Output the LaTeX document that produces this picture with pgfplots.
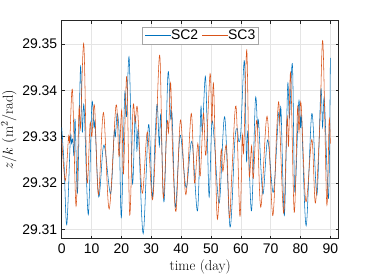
\documentclass[border=0pt]{standalone}
\usepackage{pgfplots}
\pgfplotsset{compat=1.18}
\usepackage{fontspec}
\setmainfont{Latin Modern Roman}
\newfontfamily\ticksans{Liberation Sans}
\definecolor{mblue}{rgb}{0,0.447,0.741}
\definecolor{morange}{rgb}{0.85,0.325,0.098}
\definecolor{axgray}{rgb}{0.15,0.15,0.15}
\pgfplotstableread{
t v
0 29.332
0.8 29.324
1.7 29.311
2.9 29.3295
3.3 29.3285
3.7 29.3295
4.1 29.326
4.5 29.3337
5.3 29.318
6.3 29.345
6.9 29.331
7.5 29.3365
8.9 29.3132
10.1 29.337
10.8 29.332
11.2 29.3325
12.4 29.317
13.8 29.3272
14.6 29.327
16.4 29.3177
17.6 29.331
18.0 29.330
18.6 29.335
19.3 29.330
20.0 29.3126
21.1 29.339
21.7 29.3343
22.6 29.347
23.7 29.320
24.6 29.3345
25.2 29.327
25.7 29.331
27.3 29.3091
29.1 29.3326
30.4 29.317
31.3 29.330
32.0 29.337
32.7 29.328
33.2 29.3345
34.3 29.316
35.6 29.3436
36.5 29.334
37.0 29.3345
38.1 29.3148
39.7 29.3303
41.7 29.319
43.6 29.329
45.5 29.314
46.6 29.336
47.1 29.331
48.1 29.343
48.7 29.333
49.4 29.317
50.3 29.333
51.2 29.3285
52.8 29.3157
54.6 29.3343
56.4 29.3105
58.0 29.329
58.8 29.3318
59.3 29.329
60.0 29.331
61.2 29.3464
61.9 29.325
62.4 29.331
63.6 29.314
64.9 29.338
65.6 29.332
66.0 29.333
67.4 29.3176
69.0 29.3293
70.9 29.318
72.6 29.3346
73.1 29.333
73.5 29.3355
74.6 29.313
75.7 29.341
76.3 29.334
77.3 29.3455
78.1 29.318
79.4 29.3374
80.0 29.332
80.4 29.3335
81.9 29.3108
83.8 29.335
85.5 29.3174
86.8 29.340
87.4 29.332
88.0 29.338
89.4 29.3167
90.0 29.347
}\sctwo
\pgfplotstableread{
t v
0 29.3295
1.2 29.3205
2.3 29.330
2.7 29.329
3.6 29.340
4.8 29.315
5.8 29.336
6.3 29.332
7.4 29.350
8.5 29.3203
9.5 29.3328
10.1 29.330
11.0 29.3366
12.3 29.3175
14.0 29.3352
15.9 29.3144
18.2 29.3368
19.2 29.3257
20.1 29.3357
20.7 29.322
21.8 29.343
22.8 29.3131
23.9 29.3363
24.6 29.333
25.4 29.336
27.0 29.3178
28.7 29.331
30.4 29.3164
31.7 29.332
32.9 29.3473
34.0 29.317
35.3 29.333
35.8 29.331
36.5 29.3416
37.2 29.326
38.3 29.3139
39.8 29.3336
41.6 29.3175
43.4 29.335
44.5 29.320
45.6 29.3285
46.4 29.3215
47.5 29.335
48.3 29.326
49.7 29.3436
50.3 29.333
50.9 29.341
52.1 29.3124
53.4 29.327
54.0 29.3225
55.2 29.328
56.2 29.3125
57.0 29.322
58.4 29.3366
59.7 29.3128
60.5 29.330
61.0 29.327
62.0 29.3487
62.8 29.322
63.6 29.328
64.2 29.321
65.4 29.3335
66.7 29.3148
68.8 29.3344
70.7 29.313
72.0 29.331
72.7 29.3375
73.2 29.330
74.4 29.3135
75.5 29.334
76.0 29.328
76.7 29.3436
77.9 29.3137
79.0 29.336
79.5 29.331
80.2 29.3371
81.8 29.316
83.8 29.3294
85.0 29.3157
86.5 29.333
87.5 29.3504
88.8 29.3155
89.6 29.3335
90.0 29.3285
}\scthree
\begin{document}
\begin{tikzpicture}
\path[use as bounding box] (0,0) rectangle (374bp,280bp);
\begin{axis}[
  at={(61.7bp,41.3bp)}, anchor=south west,
  scale only axis, width=277bp, height=218bp,
  xmin=0, xmax=92.8, ymin=29.308, ymax=29.355,
  xtick={0,10,...,90},
  ytick={29.31,29.32,29.33,29.34,29.35},
  yticklabel style={/pgf/number format/fixed,/pgf/number format/precision=2,/pgf/number format/fixed zerofill, xshift=-1bp},
  xticklabel style={yshift=-2bp},
  /pgf/number format/assume math mode=true,
  ticklabel style={font=\ticksans\fontsize{14}{16}\selectfont},
  scaled y ticks=false,
  tick align=inside, tick style={axgray, line width=0.5pt},
  major tick length=3bp,
  axis line style={axgray, line width=0.5pt},
  grid=major, grid style={gray!20, line width=0.5pt},
  xlabel={time (day)},
  ylabel={$z/k\ (\mathrm{m}^2/\mathrm{rad})$},
  label style={font=\fontsize{14.5}{16}\selectfont},
  xlabel style={yshift=1bp},
  ylabel style={yshift=-1bp},
  legend columns=2,
  legend style={at={(0.5,0.972)}, anchor=north, draw=gray!70, fill=white,
    font=\ticksans\fontsize{14}{16}\selectfont, inner sep=1pt,
    /tikz/every even column/.append style={column sep=0pt},
    /tikz/every odd column/.append style={column sep=0pt}},
  legend image code/.code={},
]
\addplot[mblue, line width=0.55pt, smooth, tension=0.55, forget plot] table[x=t,y=v] {\sctwo};
\addplot[morange, line width=0.55pt, smooth, tension=0.55, forget plot] table[x=t,y=v] {\scthree};
\addlegendimage{empty legend}
\addlegendentry{\textcolor{mblue}{\rule[0.32em]{26bp}{0.7pt}}SC2}
\addlegendimage{empty legend}
\addlegendentry{\textcolor{morange}{\rule[0.32em]{26bp}{0.7pt}}SC3}
\end{axis}
\end{tikzpicture}
\end{document}
